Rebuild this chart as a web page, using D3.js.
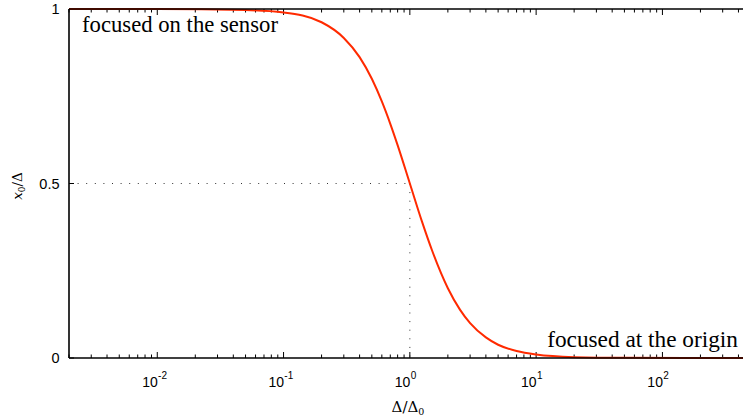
<!DOCTYPE html>
<html>
<head>
<meta charset="utf-8">
<script src="https://cdn.jsdelivr.net/npm/d3@7"></script>
<style>
html,body{margin:0;padding:0;background:#fff;}
svg{display:block;}
</style>
</head>
<body>
<svg id="chart" width="743" height="418"></svg>
<script>
// ---- data ----
const ratio = [0.002, 0.01, 0.05, 0.1, 0.2, 0.3, 0.4, 0.5, 0.6, 0.7, 0.8, 1.0, 1.25, 1.5, 2, 2.5, 3, 4, 5, 7, 10, 20, 50, 500];
const x0OverDelta = [1.0, 1.0, 0.997, 0.99, 0.962, 0.917, 0.862, 0.80, 0.735, 0.671, 0.61, 0.50, 0.39, 0.308, 0.20, 0.138, 0.10, 0.059, 0.038, 0.02, 0.01, 0.0025, 0.0004, 0.0];
const xMajorTicks = [0.01, 0.1, 1, 10, 100];
const xTickExponents = ["-2", "-1", "0", "1", "2"];
const yTicks = [0, 0.5, 1];
const yTickLabels = ["0", "0.5", "1"];
const halfPoint = [1, 0.5];
const annotations = ["focused on the sensor", "focused at the origin"];

// ---- layout ----
const SANS = '"Liberation Sans", Arial, Helvetica, sans-serif';
const SERIF = '"Liberation Serif", "DejaVu Serif", "Times New Roman", Times, serif';
const MATH = '"DejaVu Serif", "Liberation Serif", serif';

const svg = d3.select("#chart");
const pLeft = 69, pTop = 9, pBottom = 358, pRight = 750.7;
const x = d3.scaleLog().domain([0.002, 500]).range([pLeft, pRight]);
const y = d3.scaleLinear().domain([0, 1]).range([pBottom, pTop]);

// minor ticks
const minorTicks = [];
for (let e = -3; e <= 2; e++) {
  for (let m = 1; m <= 9; m++) {
    const v = m * Math.pow(10, e);
    if (v >= 0.002 && v <= 500) minorTicks.push(v);
  }
}

const g = svg.append("g");

// dotted guide lines
g.append("line")
  .attr("x1", x(0.002)).attr("x2", x(halfPoint[0]))
  .attr("y1", y(halfPoint[1])).attr("y2", y(halfPoint[1]))
  .attr("stroke", "#333").attr("stroke-width", 1)
  .attr("stroke-dasharray", "1,7.6");
g.append("line")
  .attr("x1", x(halfPoint[0])).attr("x2", x(halfPoint[0]))
  .attr("y1", y(halfPoint[1])).attr("y2", y(0))
  .attr("stroke", "#333").attr("stroke-width", 1)
  .attr("stroke-dasharray", "1,7.6");

// ticks on bottom (upwards) and top (downwards)
const tickG = g.append("g").attr("stroke", "#000").attr("stroke-width", 1);
minorTicks.forEach(v => {
  const isMajor = xMajorTicks.some(t => Math.abs(Math.log10(t) - Math.log10(v)) < 1e-9);
  const len = isMajor ? 6 : 3.5;
  tickG.append("line").attr("x1", x(v)).attr("x2", x(v))
    .attr("y1", pBottom).attr("y2", pBottom - len);
  tickG.append("line").attr("x1", x(v)).attr("x2", x(v))
    .attr("y1", pTop).attr("y2", pTop + len);
});
yTicks.forEach(v => {
  tickG.append("line").attr("x1", pLeft).attr("x2", pLeft + 5)
    .attr("y1", y(v)).attr("y2", y(v));
});

// curve
const line = d3.line()
  .x((d, i) => x(ratio[i]))
  .y(d => y(d))
  .curve(d3.curveMonotoneX);
g.append("path")
  .datum(x0OverDelta)
  .attr("d", line)
  .attr("fill", "none")
  .attr("stroke", "#ff2a00")
  .attr("stroke-width", 2);

// axis frame
g.append("line").attr("x1", pLeft).attr("x2", 743).attr("y1", pBottom).attr("y2", pBottom)
  .attr("stroke", "#000").attr("stroke-width", 1.6);
g.append("line").attr("x1", pLeft).attr("x2", 743).attr("y1", pTop).attr("y2", pTop)
  .attr("stroke", "#000").attr("stroke-width", 1.6);
g.append("line").attr("x1", pLeft).attr("x2", pLeft).attr("y1", pTop).attr("y2", pBottom)
  .attr("stroke", "#000").attr("stroke-width", 1.6);

// x tick labels: "10" ending at the tick, exponent raised after it
xMajorTicks.forEach((v, i) => {
  g.append("text")
    .style("font-family", SANS).style("font-size", "14px")
    .attr("x", x(v) + 0.5).attr("y", 386.5)
    .attr("text-anchor", "end")
    .attr("fill", "#000")
    .text("10");
  g.append("text")
    .style("font-family", SANS).style("font-size", "10px")
    .attr("x", x(v) + 0.8).attr("y", 378.5)
    .attr("text-anchor", "start")
    .attr("fill", "#000")
    .text(xTickExponents[i]);
});

// y tick labels
yTicks.forEach((v, i) => {
  g.append("text")
    .style("font-family", SANS).style("font-size", "14.5px")
    .attr("x", 59.5).attr("y", y(v) + 5)
    .attr("text-anchor", "end")
    .attr("fill", "#000")
    .text(yTickLabels[i]);
});

// axis titles
const xl = g.append("text")
  .style("font-family", MATH).style("font-size", "15px")
  .attr("x", 408).attr("y", 412)
  .attr("text-anchor", "middle")
  .attr("fill", "#000");
xl.append("tspan").text("Δ/Δ");
xl.append("tspan").attr("dy", 3).style("font-size", "9.5px").text("0");

const yl = g.append("text")
  .style("font-family", MATH).style("font-size", "13.5px")
  .attr("transform", "translate(22,186) rotate(-90)")
  .attr("text-anchor", "middle")
  .attr("fill", "#000");
yl.append("tspan").style("font-style", "italic").text("x");
yl.append("tspan").attr("dy", 3).style("font-size", "9px").text("0");
yl.append("tspan").attr("dy", -3).text("/Δ");

// annotations (font size fitted to the reference text width)
function fitText(sel, target) {
  const w = sel.node().getComputedTextLength();
  const fs = parseFloat(sel.style("font-size"));
  sel.style("font-size", (fs * target / w) + "px");
}
const a1 = g.append("text")
  .style("font-family", SERIF).style("font-size", "19px")
  .attr("x", 82).attr("y", 32)
  .attr("fill", "#000")
  .text(annotations[0]);
fitText(a1, 196);
const a2 = g.append("text")
  .style("font-family", SERIF).style("font-size", "19px")
  .attr("x", 738).attr("y", 347)
  .attr("text-anchor", "end")
  .attr("fill", "#000")
  .text(annotations[1]);
fitText(a2, 191);
</script>
</body>
</html>
